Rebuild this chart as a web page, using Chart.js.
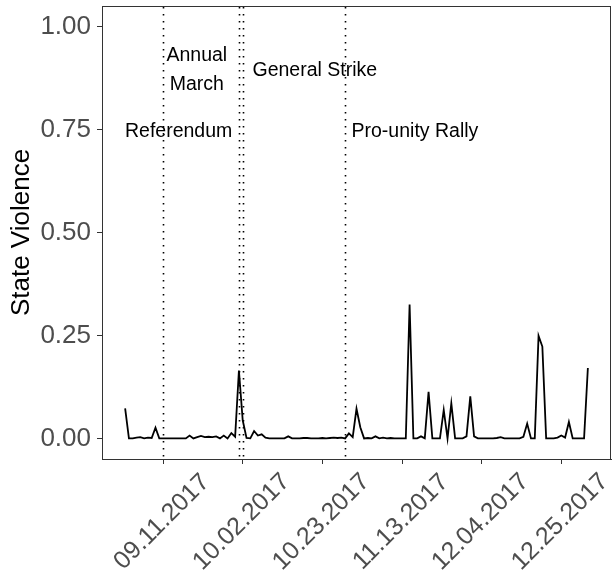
<!DOCTYPE html>
<html>
<head>
<meta charset="utf-8">
<script src="https://cdn.jsdelivr.net/npm/chart.js@4.4.0/dist/chart.umd.min.js"></script>
<style>
  html, body { margin: 0; padding: 0; background: #fff; }
  #wrap { width: 612px; height: 585px; }
</style>
</head>
<body>
<div id="wrap"><canvas id="violence_chart" width="612" height="585"></canvas></div>
<script>
// daily values, day 0 = 01.09.2017, last day = 01.01.2018
const values = [
  0.073, 0, 0, 0.002, 0.003, 0, 0.002, 0.001, 0.026, 0,
  0, 0, 0, 0, 0, 0, 0, 0.007, 0, 0.003,
  0.006, 0.003, 0.004, 0.003, 0.005, 0, 0.007, 0, 0.013, 0.004,
  0.165, 0.044, 0.001, 0, 0.018, 0.007, 0.010, 0.002, 0, 0,
  0, 0, 0, 0.005, 0, 0, 0, 0.001, 0.001, 0,
  0, 0, 0.001, 0, 0.001, 0.002, 0.001, 0.002, 0, 0.012,
  0.003, 0.072, 0.027, 0, 0.001, 0, 0.005, 0, 0.002, 0,
  0.001, 0, 0, 0, 0, 0.325, 0, 0, 0.005, 0,
  0.113, 0, 0, 0, 0.069, 0, 0.085, 0, 0, 0,
  0.005, 0.102, 0.005, 0, 0, 0, 0, 0, 0.001, 0.003,
  0, 0, 0, 0, 0, 0.004, 0.036, 0, 0, 0.249,
  0.223, 0, 0, 0, 0.002, 0.007, 0.002, 0.040, 0, 0,
  0, 0, 0.171
];

// x axis ticks (day number) and their labels
const tickDays = [10, 31, 52, 73, 94, 115];
const tickLabels = ['09.11.2017', '10.02.2017', '10.23.2017', '11.13.2017', '12.04.2017', '12.25.2017'];
const yTicks = [0, 0.25, 0.5, 0.75, 1];

// events (dotted lines) and the text notes
const eventDays = [10, 30, 31, 58];
const noteTexts = [['Referendum'], ['Annual', 'March'], ['General Strike'], ['Pro-unity Rally']];
const noteDays = [14.1, 18.9, 50.0, 76.4];
const noteValues = [0.75, 0.9, 0.9, 0.75];

var points = values.map(function(v, i){ return {x: i, y: v}; });

// vertical dotted lines behind the line, notes on top
const eventLines = {
  id: 'eventLines',
  beforeDatasetsDraw: function(chart){
    var ctx = chart.ctx, x = chart.scales.x, a = chart.chartArea;
    ctx.save();
    ctx.strokeStyle = '#000';
    ctx.lineWidth = 1.6;
    ctx.setLineDash([1.6, 5.4]);
    eventDays.forEach(function(d){
      var px = Math.round(x.getPixelForValue(d)) + 0.5;
      ctx.beginPath();
      ctx.moveTo(px, a.top + 1);
      ctx.lineTo(px, a.bottom);
      ctx.stroke();
    });
    ctx.restore();
  },
  afterDatasetsDraw: function(chart){
    var ctx = chart.ctx, x = chart.scales.x, y = chart.scales.y;
    ctx.save();
    ctx.fillStyle = '#000';
    ctx.font = '19.5px "Liberation Sans", Arial, sans-serif';
    ctx.textAlign = 'center';
    ctx.textBaseline = 'middle';
    noteTexts.forEach(function(lines, k){
      var cx = x.getPixelForValue(noteDays[k]);
      var cy = y.getPixelForValue(noteValues[k]) + 2.5;
      var lh = 29;
      var y0 = cy - (lines.length - 1) * lh / 2;
      lines.forEach(function(t, j){ ctx.fillText(t, cx, y0 + j * lh); });
    });
    ctx.restore();
  }
};

// panel border + rotated x labels centred on their ticks
const frame = {
  id: 'frame',
  afterDraw: function(chart){
    var ctx = chart.ctx, a = chart.chartArea, x = chart.scales.x;
    ctx.save();
    ctx.strokeStyle = '#333';
    ctx.lineWidth = 1;
    ctx.strokeRect(Math.round(a.left) + 0.5, Math.round(a.top) + 0.5,
      Math.round(a.right - a.left) - 1, Math.round(a.bottom - a.top));
    ctx.fillStyle = '#4d4d4d';
    ctx.font = '25px "Liberation Sans", Arial, sans-serif';
    ctx.textAlign = 'center';
    ctx.textBaseline = 'middle';
    tickDays.forEach(function(d, i){
      var px = x.getPixelForValue(d);
      ctx.save();
      ctx.translate(px - 1, a.bottom + 63);
      ctx.rotate(-Math.PI / 4);
      ctx.fillText(tickLabels[i], 0, 0);
      ctx.restore();
    });
    ctx.restore();
  }
};

new Chart(document.getElementById('violence_chart'), {
  type: 'line',
  data: {
    datasets: [{
      data: points,
      borderColor: '#000',
      borderWidth: 1.8,
      pointRadius: 0,
      tension: 0,
      fill: false
    }]
  },
  options: {
    responsive: false,
    animation: false,
    layout: { padding: { top: 6, right: 1, left: 0, bottom: 0 } },
    plugins: { legend: { display: false }, tooltip: { enabled: false } },
    scales: {
      x: {
        type: 'linear',
        min: -6.1,
        max: 128.1,
        afterBuildTicks: function(s){ s.ticks = tickDays.map(function(d){ return {value: d}; }); },
        afterFit: function(s){ s.height = 126; s.paddingLeft = 0; s.paddingRight = 0; },
        grid: { drawOnChartArea: false, drawTicks: true, tickLength: 5, tickColor: '#333', tickWidth: 1 },
        border: { display: true, color: '#333', width: 1 },
        ticks: { display: false, autoSkip: false }
      },
      y: {
        min: -0.05,
        max: 1.05,
        afterBuildTicks: function(s){ s.ticks = yTicks.map(function(v){ return {value: v}; }); },
        afterFit: function(s){ s.width = 102; s.paddingTop = 0; s.paddingBottom = 0; },
        grid: { drawOnChartArea: false, drawTicks: true, tickLength: 5, tickColor: '#333', tickWidth: 1 },
        border: { display: true, color: '#333', width: 1 },
        ticks: {
          color: '#4d4d4d',
          padding: 6,
          font: { family: '"Liberation Sans", Arial, sans-serif', size: 26 },
          callback: function(v){ return v.toFixed(2); }
        },
        title: {
          display: true,
          text: 'State Violence',
          color: '#000',
          font: { family: '"Liberation Sans", Arial, sans-serif', size: 26 },
          padding: { top: 6, bottom: 0 }
        }
      }
    }
  },
  plugins: [eventLines, frame]
});
</script>
</body>
</html>
